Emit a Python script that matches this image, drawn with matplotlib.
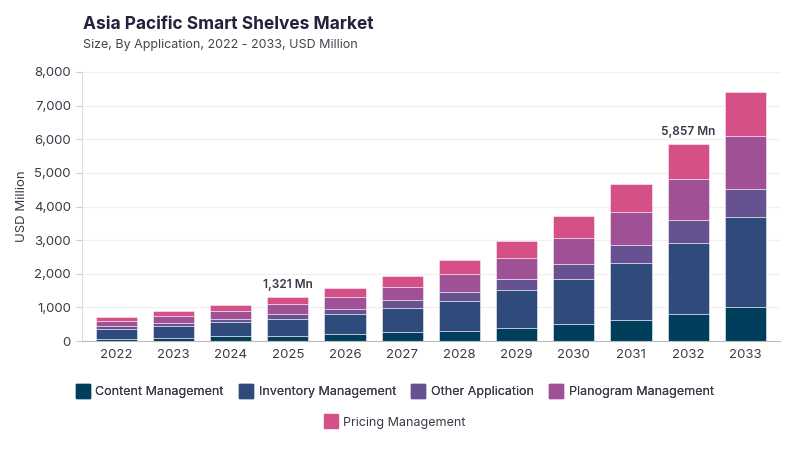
import matplotlib.pyplot as plt
from matplotlib.ticker import FuncFormatter
from matplotlib.lines import Line2D
import numpy as np

plt.rcParams['font.family'] = ['Inter', 'DejaVu Sans']

years = ['2022', '2023', '2024', '2025', '2026', '2027', '2028', '2029', '2030', '2031', '2032', '2033']
content = [70, 99, 139, 160, 198, 258, 307, 397, 496, 634, 794, 1011]
inventory = [297, 357, 416, 500, 595, 733, 892, 1110, 1357, 1695, 2130, 2686]
other = [89, 89, 109, 140, 168, 218, 268, 327, 427, 526, 665, 833]
planogram = [149, 209, 238, 290, 357, 407, 535, 634, 793, 991, 1238, 1576]
pricing = [119, 128, 179, 231, 268, 326, 397, 506, 644, 814, 1030, 1290]

series = {
    'Content Management': (content, '#003f5c'),
    'Inventory Management': (inventory, '#2f4b7c'),
    'Other Application': (other, '#665191'),
    'Planogram Management': (planogram, '#a05195'),
    'Pricing Management': (pricing, '#d45087'),
}
labelled = {'2025': '1,321 Mn', '2032': '5,857 Mn'}

fig = plt.figure(figsize=(8, 4.5), dpi=100)
ax = fig.add_axes([0.1025, 0.242, 0.872, 0.598])

x = np.arange(len(years))
bottom = np.zeros(len(years))
for name, (vals, col) in series.items():
    ax.bar(x, vals, bottom=bottom, width=0.72, color=col, edgecolor='#f4f0f6', linewidth=0.4, label=name)
    bottom += np.array(vals)

for i, yr in enumerate(years):
    if yr in labelled:
        ax.text(x[i], bottom[i] + 180, labelled[yr], ha='center', va='bottom',
                fontsize=8.5, color='#3a3a48', fontweight='semibold')

ax.set_ylim(0, 8000)
ax.set_xlim(-0.6, len(years) - 0.4)
ax.set_yticks(range(0, 8001, 1000))
ax.yaxis.set_major_formatter(FuncFormatter(lambda v, p: f'{int(v):,}'))
ax.set_xticks(x)
ax.set_xticklabels(years)
ax.tick_params(axis='both', labelsize=9.5, colors='#3a3a48', length=0, pad=6)
ax.tick_params(axis='y', length=4, color='#cccccc', pad=4)
ax.grid(axis='y', color='#f0f0f0', linewidth=0.8)
ax.set_axisbelow(True)
for s in ['top', 'right']:
    ax.spines[s].set_visible(False)
ax.spines['left'].set_color('#dddddd')
ax.spines['bottom'].set_color('#bbbbbb')
ax.set_ylabel('USD Million', fontsize=9.5, color='#3a3a48', labelpad=4)

fig.text(0.104, 0.935, 'Asia Pacific Smart Shelves Market', fontsize=12.5, fontweight='bold', color='#22223a')
fig.text(0.104, 0.893, 'Size, By Application, 2022 - 2033, USD Million', fontsize=9, color='#44444f')

names = list(series.keys())
handles = [Line2D([0], [0], marker='s', linestyle='', markersize=10,
                  markerfacecolor=series[n][1], markeredgecolor=series[n][1]) for n in names]
leg1 = fig.legend(handles[:4], names[:4], loc='center', bbox_to_anchor=(0.494, 0.128), ncol=4,
                  frameon=False, fontsize=9, handletextpad=0.5, columnspacing=1.3, handlelength=1.0)
for t in leg1.get_texts():
    t.set_color('#3a3a48')
leg2 = fig.legend(handles[4:], names[4:], loc='center', bbox_to_anchor=(0.494, 0.061), ncol=1,
                  frameon=False, fontsize=9, handletextpad=0.5, handlelength=1.0)
for t in leg2.get_texts():
    t.set_color('#3a3a48')
fig.add_artist(leg1)

fig.savefig('out.png', dpi=100)
